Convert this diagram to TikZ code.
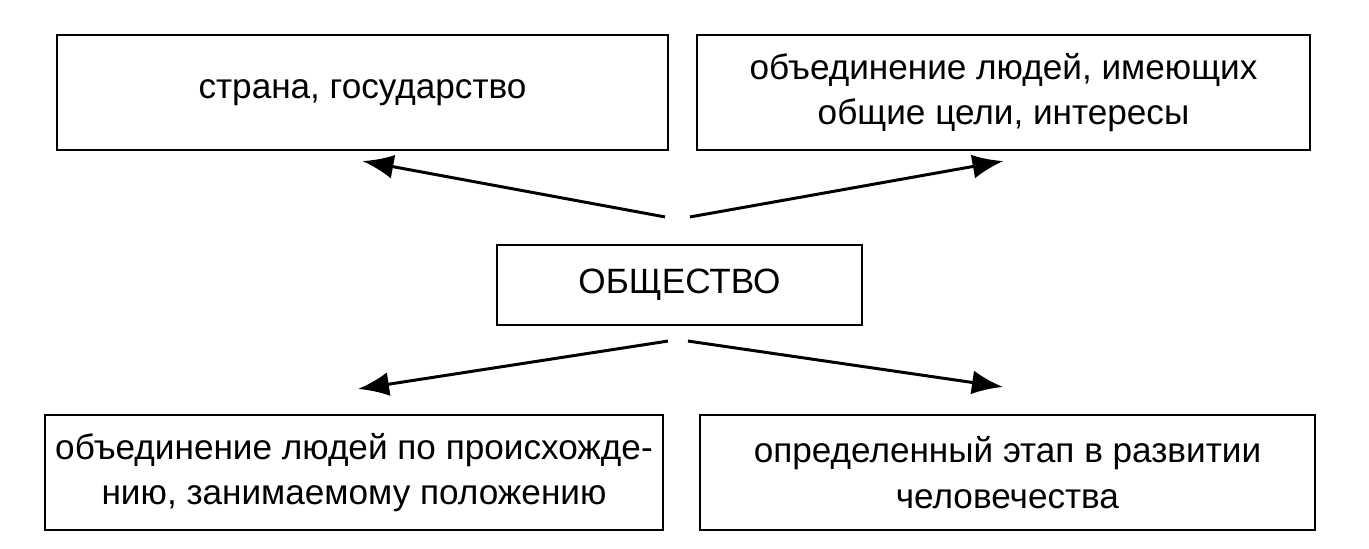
\documentclass[tikz,border=0pt]{standalone}
\usepackage{fontspec}
\setmainfont{Liberation Sans}
\usetikzlibrary{positioning, arrows.meta, calc}

\begin{document}
\begin{tikzpicture}[
						termbox/.style={rectangle, draw, line width=1.2pt, minimum height=2.3cm, inner sep=0pt, align=center, font=\fontsize{20}{26}\selectfont},
						centerbox/.style={rectangle, draw, line width=1.2pt, minimum width=7.3cm, minimum height=1.6cm, inner sep=0pt, font=\fontsize{20}{26}\selectfont},
						line/.style={draw, -{Latex[length=0.62cm, width=0.48cm]}, line width=1.7pt}
						]
						
						\useasboundingbox (0,0) rectangle (27.38,-10.98);
						
						\node [centerbox] (society) at (13.59,-5.7) {ОБЩЕСТВО};
						
						\node [termbox, minimum width=12.22cm] (country) at (7.25,-1.85) {страна, государство};
						\node [termbox, minimum width=12.26cm] (union) at (20.07,-1.85) {объединение людей, имеющих\\общие цели, интересы};
						\node [termbox, minimum width=12.36cm] (origin) at (7.08,-9.45) {объединение людей по происхожде-\\нию, занимаемому положению};
						\node [termbox, minimum width=12.3cm] (stage) at (20.15,-9.45) {определенный этап в развитии\\человечества};
						
						\coordinate (tail1) at ($(society.north) + (-0.29, 0.54)$);
						\coordinate (tail2) at ($(society.north) + (0.21, 0.54)$);
						\coordinate (tail3) at ($(society.south) + (-0.23, -0.3)$);
						\coordinate (tail4) at ($(society.south) + (0.17, -0.3)$);
						
						\draw [line] (tail1) -- ($(country.south) + (0, -0.2)$);
						\draw [line] (tail2) -- ($(union.south) + (0, -0.2)$);
						\draw [line] (tail3) -- ($(origin.north) + (0.08, 0.5)$);
						\draw [line] (tail4) -- ($(stage.north) + (-0.09, 0.54)$);
					\end{tikzpicture}
\end{document}
